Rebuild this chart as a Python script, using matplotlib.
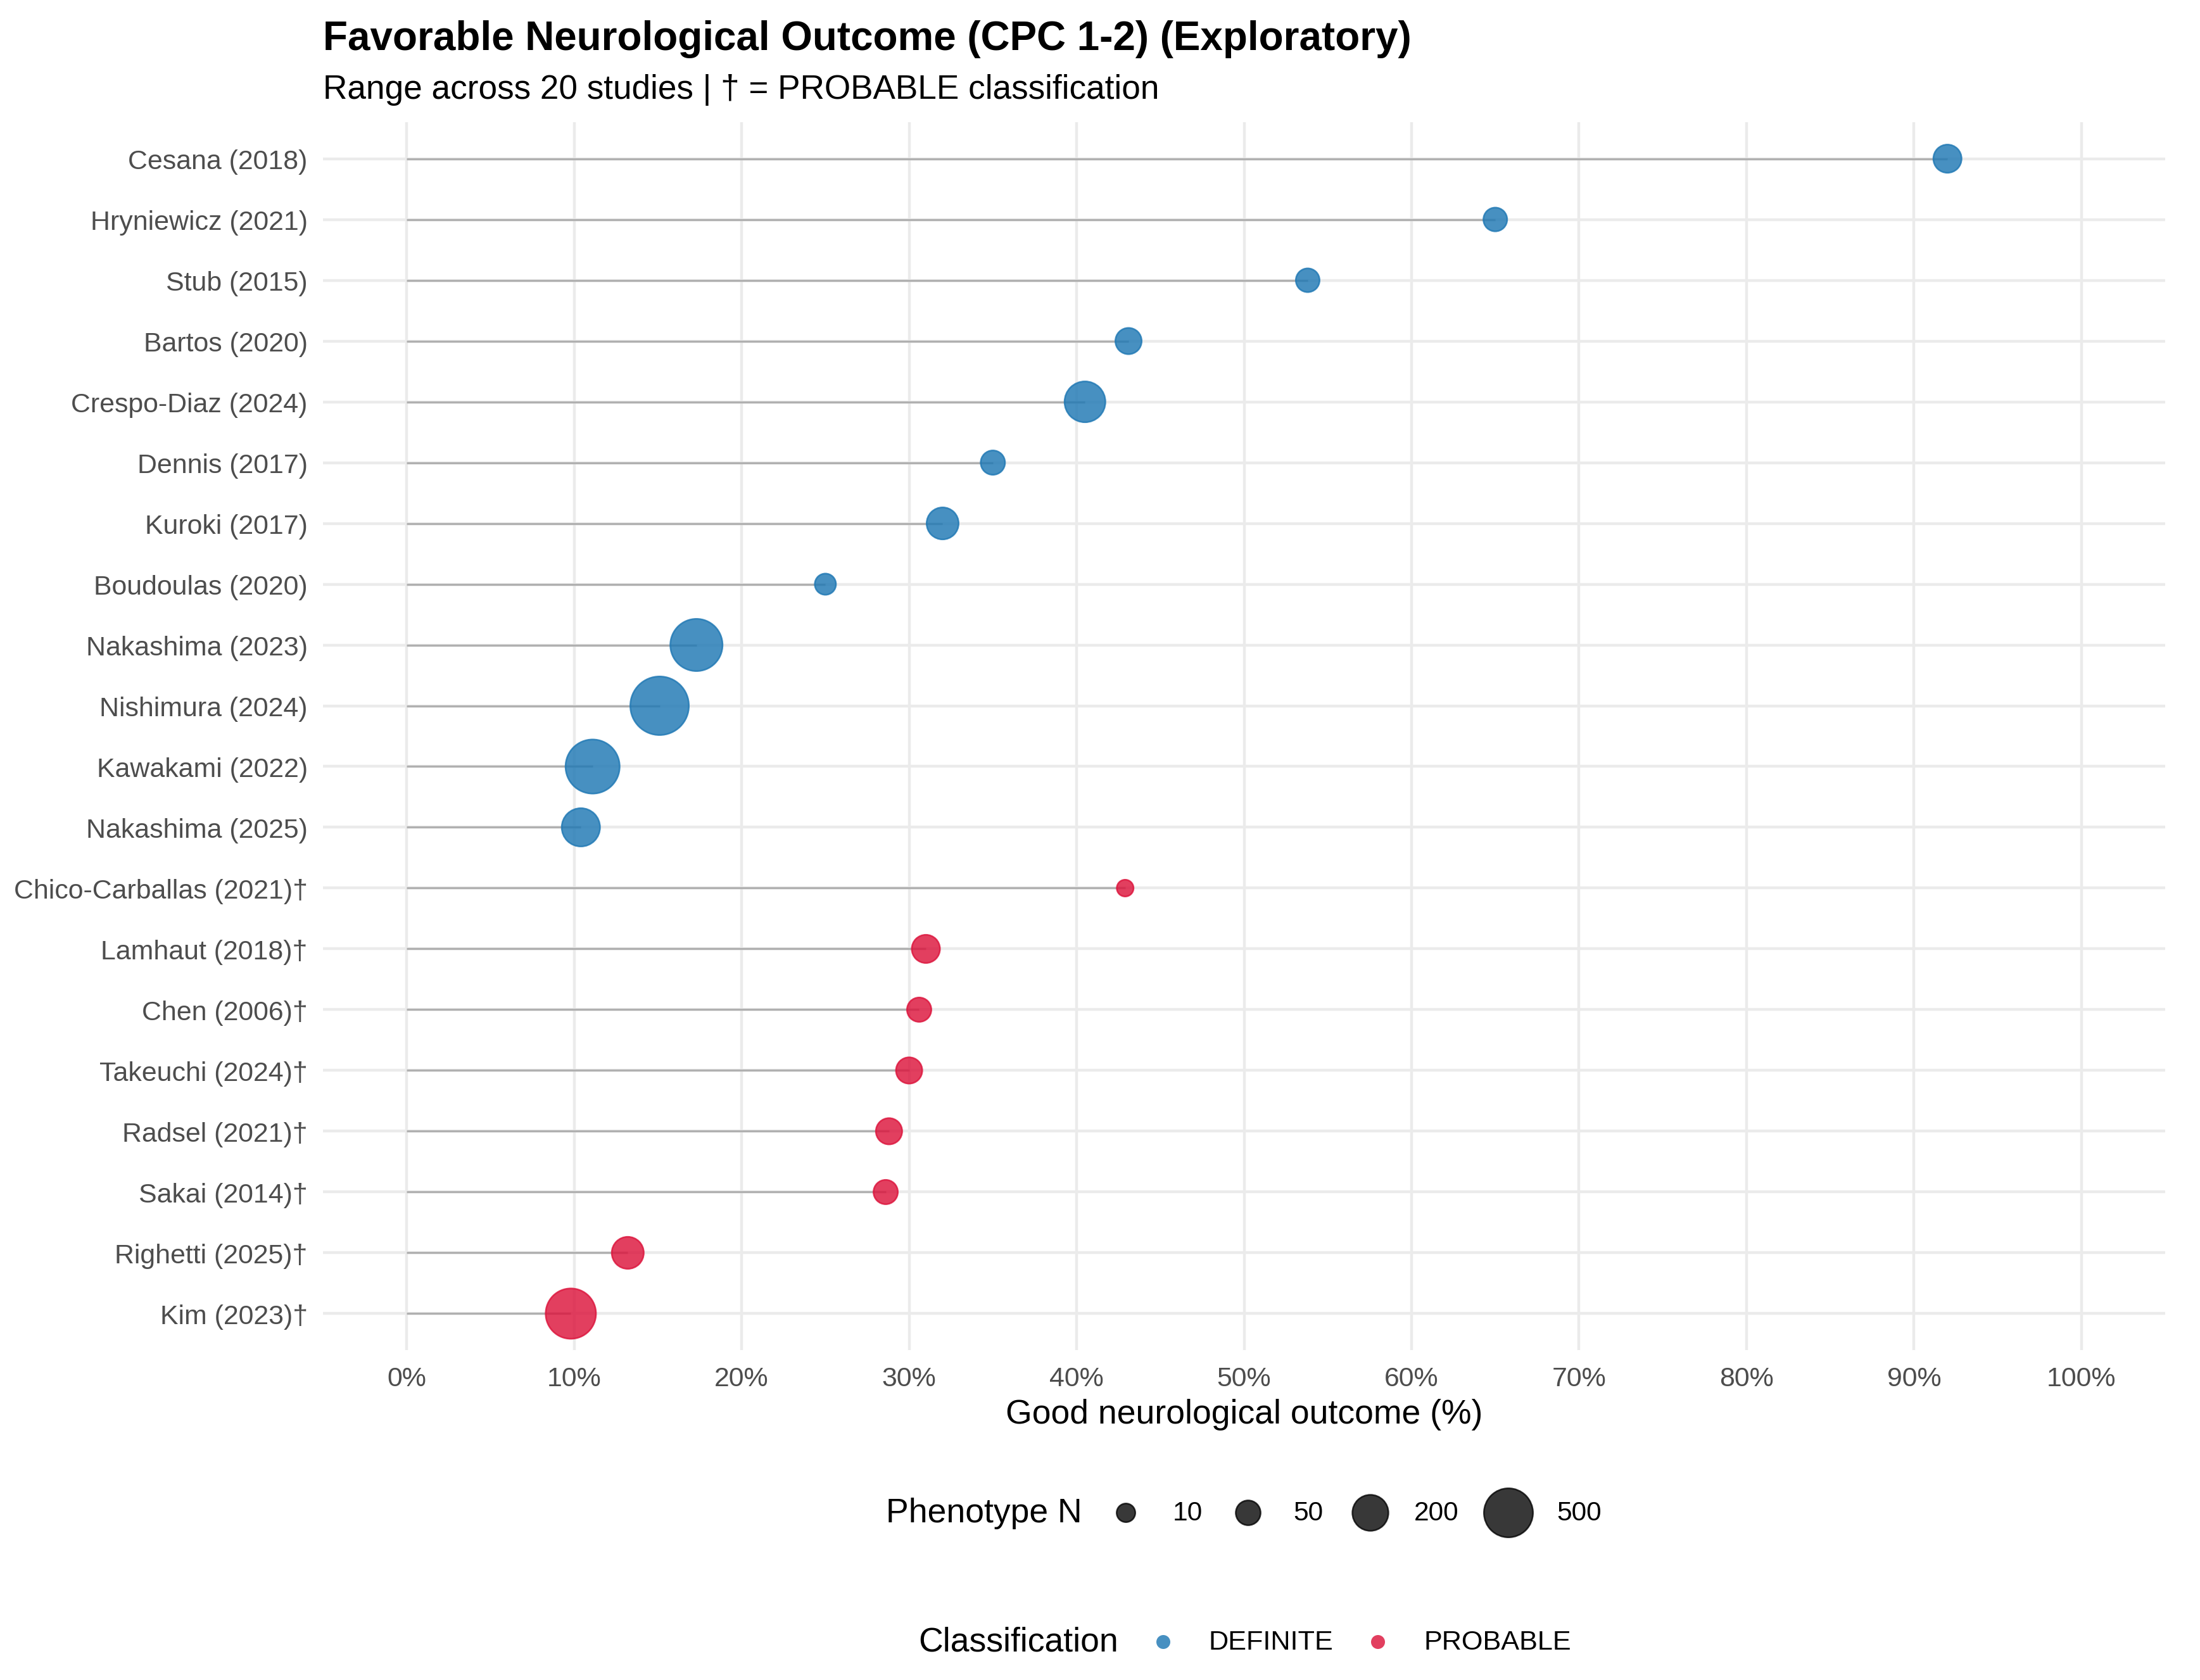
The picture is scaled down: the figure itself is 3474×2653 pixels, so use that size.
"""
Lollipop chart of favorable neurological outcome (CPC 1-2) across studies.
"""

import numpy as np
import matplotlib
matplotlib.use("Agg")
import matplotlib.pyplot as plt

# Studies listed top to bottom as in the chart
studies = [
    "Cesana (2018)", "Hryniewicz (2021)", "Stub (2015)", "Bartos (2020)",
    "Crespo-Diaz (2024)", "Dennis (2017)", "Kuroki (2017)", "Boudoulas (2020)",
    "Nakashima (2023)", "Nishimura (2024)", "Kawakami (2022)", "Nakashima (2025)",
    "Chico-Carballas (2021)\u2020", "Lamhaut (2018)\u2020", "Chen (2006)\u2020",
    "Takeuchi (2024)\u2020", "Radsel (2021)\u2020", "Sakai (2014)\u2020",
    "Righetti (2025)\u2020", "Kim (2023)\u2020",
]
outcome_pct = [92.0, 65.0, 53.8, 43.1, 40.5, 35.0, 32.0, 25.0, 17.3, 15.1,
               11.1, 10.4, 42.9, 31.0, 30.6, 30.0, 28.8, 28.6, 13.2, 9.8]
phenotype_n = [85, 41, 41, 64, 296, 46, 135, 23, 595, 807,
               655, 243, 4, 85, 46, 64, 64, 46, 135, 538]
classification = ["DEFINITE"] * 12 + ["PROBABLE"] * 8

legend_sizes = [10, 50, 200, 500]
legend_classes = ["DEFINITE", "PROBABLE"]
x_ticks = list(range(0, 101, 10))

COLORS = {"DEFINITE": "#1f78b4", "PROBABLE": "#dc143c"}
FONT = "Liberation Sans"
W, H, DPI = 3474, 2654, 300


def marker_area(n):
    # diameter grows linearly with sqrt(N), as ggplot's scale_size does
    d_px = 24 + 2.5 * np.sqrt(np.asarray(n, dtype=float))
    d_pt = d_px * 72 / DPI
    return (d_pt - 0.6) ** 2


def draw_main(fig):
    # panel box in pixels: left, right, top, bottom
    left, right, top, bottom = 510, 3419, 194, 2133
    ax = fig.add_axes([left / W, 1 - bottom / H, (right - left) / W, (bottom - top) / H])

    n = len(studies)
    y = np.arange(n)[::-1]
    colors = [COLORS[c] for c in classification]

    ax.hlines(y, 0, outcome_pct, color="#b0b0b0", lw=0.8, zorder=2)
    ax.scatter(outcome_pct, y, s=marker_area(phenotype_n), facecolors=colors,
               edgecolors=colors, linewidths=0.6, alpha=0.82, zorder=3)

    ax.set_xlim(-5, 105)
    ax.set_ylim(-0.6, n - 1 + 0.6)
    ax.set_xticks(x_ticks)
    ax.set_xticklabels([f"{t}%" for t in x_ticks])
    ax.set_yticks(y)
    ax.set_yticklabels(studies)

    ax.set_axisbelow(True)
    ax.grid(True, color="#ebebeb", lw=1.07)
    for s in ax.spines.values():
        s.set_visible(False)
    ax.tick_params(axis="both", length=0, labelsize=10.3, labelcolor="#4d4d4d")
    ax.tick_params(axis="y", pad=5.8)
    ax.tick_params(axis="x", pad=6.1)
    for lab in ax.get_xticklabels() + ax.get_yticklabels():
        lab.set_family(FONT)

    ax.set_xlabel("Good neurological outcome (%)", fontsize=12.85, family=FONT,
                  color="black", labelpad=2.6)
    return ax


def draw_text_and_legends(fig):
    # overlay axes in pixel units for titles and legends
    ov = fig.add_axes([0, 0, 1, 1], zorder=5)
    ov.set_xlim(0, W)
    ov.set_ylim(H, 0)
    ov.axis("off")
    ov.patch.set_alpha(0)

    ov.text(510, 79.5, "Favorable Neurological Outcome (CPC 1-2) (Exploratory)",
            fontsize=15.3, fontweight="bold", family=FONT, va="baseline", ha="left")
    ov.text(510, 156, "Range across 20 studies | \u2020 = PROBABLE classification",
            fontsize=12.75, family=FONT, va="baseline", ha="left")

    # size legend
    row1 = 2390
    ov.text(1399, row1, "Phenotype N", fontsize=12.85, family=FONT, va="center", ha="left")
    key_x = [1778, 1971, 2164, 2382]
    lab_x = [1852, 2042, 2233, 2458]
    ov.scatter(key_x, [row1] * len(key_x), s=marker_area(legend_sizes),
               facecolors="black", edgecolors="black", linewidths=0.6, alpha=0.78)
    for kx, val in zip(lab_x, legend_sizes):
        ov.text(kx, row1, str(val), fontsize=10.2, family=FONT, va="center", ha="left")

    # colour legend
    row2 = 2594
    ov.text(1450, row2, "Classification", fontsize=12.85, family=FONT, va="center", ha="left")
    dot_x = [1837, 2176]
    name_x = [1908, 2248]
    ov.scatter(dot_x, [row2] * 2, s=(22 * 72 / DPI) ** 2,
               c=[COLORS[c] for c in legend_classes], alpha=0.82, linewidths=0)
    for nx, name in zip(name_x, legend_classes):
        ov.text(nx, row2, name, fontsize=10.4, family=FONT, va="center", ha="left")


if __name__ == "__main__":
    fig = plt.figure(figsize=(W / DPI, H / DPI), dpi=DPI)
    fig.patch.set_facecolor("white")
    draw_main(fig)
    draw_text_and_legends(fig)
    fig.savefig("out.png", dpi=DPI)
    plt.close(fig)
